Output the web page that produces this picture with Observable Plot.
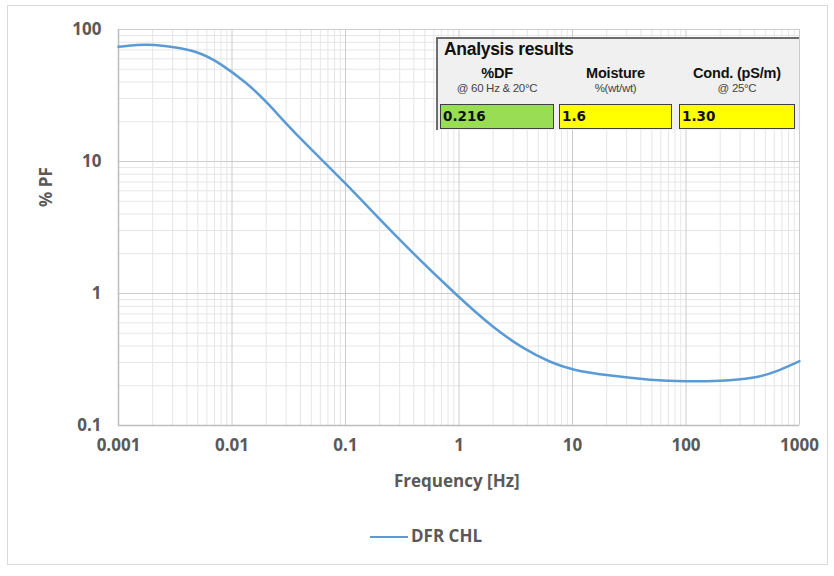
<!DOCTYPE html>
<html><head><meta charset="utf-8">
<script src="https://cdn.jsdelivr.net/npm/d3@7"></script>
<script src="https://cdn.jsdelivr.net/npm/@observablehq/plot@0.6"></script>
<style>
body{margin:0;background:#fff;}
#wrap{position:relative;width:834px;height:576px;overflow:hidden;font-family:"Open Sans",sans-serif;}
#frame{position:absolute;left:7px;top:5px;width:821px;height:560px;border:1px solid #d9d9d9;box-sizing:border-box;}
#chart{position:absolute;left:0;top:0;}
.lbl{position:absolute;color:#595959;font-weight:700;font-size:17px;white-space:nowrap;}
#box{position:absolute;left:436px;top:37px;width:363px;height:93px;background:#f0f0f0;border-left:2px solid #6d6d6d;border-top:2px solid #6d6d6d;box-sizing:border-box;font-family:Arial,"Liberation Sans",sans-serif;}
#box .t{position:absolute;left:6px;top:0px;font-weight:700;font-size:17.5px;color:#111;letter-spacing:-0.3px;}
#box .h{position:absolute;width:116px;text-align:center;font-weight:700;font-size:14.5px;color:#111;top:26px;letter-spacing:-0.2px;}
#box .s{position:absolute;width:116px;text-align:center;font-size:11.5px;color:#444;top:43px;letter-spacing:-0.3px;}
#box .v{position:absolute;top:65px;height:25px;border:1px solid #404040;box-sizing:border-box;font-family:"DejaVu Sans",sans-serif;font-weight:700;font-size:13.5px;line-height:23px;padding-left:2px;color:#111;}
</style></head>
<body><div id="wrap"><div id="frame"></div><div id="chart"></div>
<div class="lbl" style="left:34px;top:207px;transform:rotate(-90deg);transform-origin:left top;">% PF</div>
<div class="lbl" style="left:394px;top:469px;">Frequency [Hz]</div>
<div style="position:absolute;left:370px;top:536px;width:38px;height:0;border-top:2.5px solid #5b9bd5;"></div>
<div class="lbl" style="left:411px;top:524px;">DFR CHL</div>
<div id="box"></div>
</div>
<script>
const freq = [0.001, 0.0015, 0.002, 0.0035, 0.0053, 0.0079, 0.0136, 0.0204, 0.0375, 0.1, 0.286, 1, 2, 3.7, 6.4, 10, 20, 50, 100, 200, 400, 600, 1000];
const pf   = [74, 76.5, 77, 72.7, 66.5, 55.5, 39.2, 28.1, 15.6, 6.9, 2.62, 0.93, 0.55, 0.38, 0.30, 0.263, 0.24, 0.22, 0.215, 0.217, 0.228, 0.252, 0.307];
const xTicks = [0.001, 0.01, 0.1, 1, 10, 100, 1000];
const yTicks = [0.1, 1, 10, 100];
const columns = ["%DF", "Moisture", "Cond. (pS/m)"];
const subs = ["@ 60 Hz & 20°C", "%(wt/wt)", "@ 25°C"];
const values = ["0.216", "1.6", "1.30"];
const valueColors = ["#99dd55", "#ffff00", "#ffff00"];

const minor = (decades) => decades.slice(0, -1).flatMap(d => [2,3,4,5,6,7,8,9].map(k => +(d * k).toPrecision(3)));
const data = freq.map((f, i) => ({f, v: pf[i]}));

const chart = Plot.plot({
  width: 834, height: 576,
  marginLeft: 118, marginRight: 35, marginTop: 29, marginBottom: 151,
  style: {fontFamily: '"Open Sans", sans-serif', fontSize: "17px", color: "#595959", fontWeight: 700, background: "transparent"},
  x: {type: "log", domain: [0.001, 1000]},
  y: {type: "log", domain: [0.1, 100]},
  marks: [
    Plot.gridX(minor(xTicks), {stroke: "#e6e6e6", strokeOpacity: 1, strokeWidth: 1}),
    Plot.gridY(minor(yTicks), {stroke: "#e6e6e6", strokeOpacity: 1, strokeWidth: 1}),
    Plot.gridX(xTicks, {stroke: "#cccccc", strokeOpacity: 1, strokeWidth: 1}),
    Plot.gridY(yTicks, {stroke: "#cccccc", strokeOpacity: 1, strokeWidth: 1}),
    Plot.ruleX([0.001], {stroke: "#bdbdbd", strokeWidth: 1.5}),
    Plot.ruleY([0.1], {stroke: "#bdbdbd", strokeWidth: 1.5}),
    Plot.axisX({ticks: xTicks, tickFormat: d => String(d), tickSize: 0, tickPadding: 13, label: null, fill: "#595959"}),
    Plot.axisY({ticks: yTicks, tickFormat: d => String(d), tickSize: 0, tickPadding: 17, label: null, fill: "#595959"}),
    Plot.line(data, {x: "f", y: "v", curve: "basis", stroke: "#5b9bd5", strokeWidth: 2.5})
  ]
});
document.getElementById("chart").appendChild(chart);

const box = document.getElementById("box");
let html = '<div class="t">Analysis results</div>';
const lefts = [2, 121, 241];
const widths = [114, 113, 116];
columns.forEach((c, i) => {
  html += `<div class="h" style="left:${lefts[i]}px;width:${widths[i]}px">${c}</div>`;
  html += `<div class="s" style="left:${lefts[i]}px;width:${widths[i]}px">${subs[i]}</div>`;
  html += `<div class="v" style="left:${lefts[i]}px;width:${widths[i]}px;background:${valueColors[i]}">${values[i]}</div>`;
});
box.innerHTML = html;
</script></body></html>
